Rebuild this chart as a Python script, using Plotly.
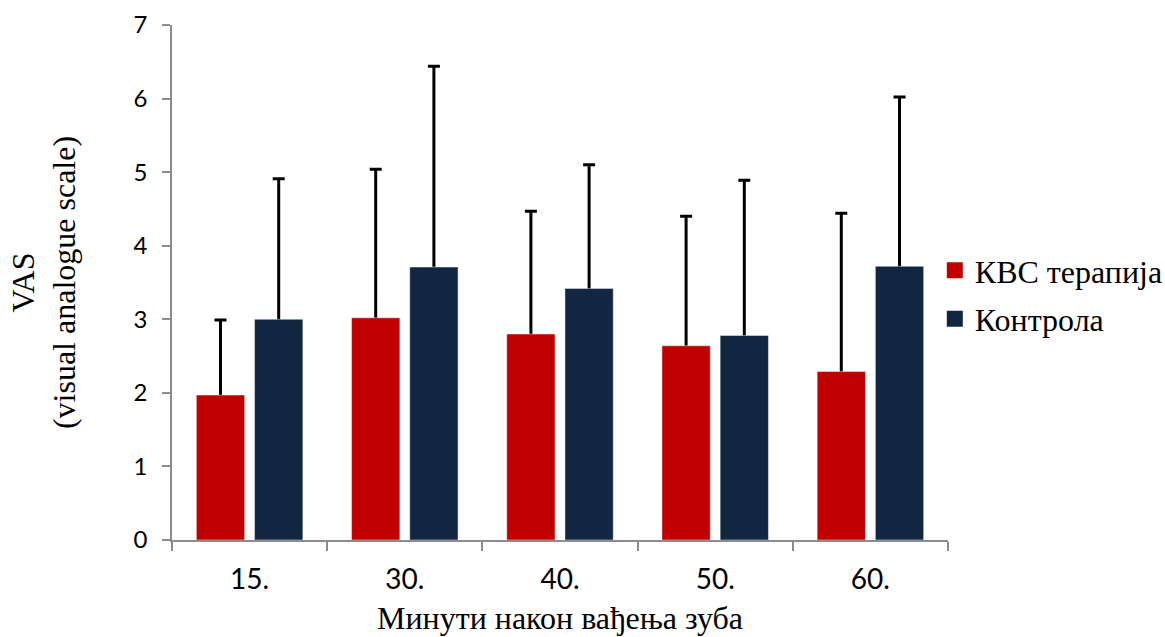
import plotly.graph_objects as go

# Time after tooth extraction (minutes)
categories = ["15.", "30.", "40.", "50.", "60."]

# Mean VAS score and standard deviation per group
kbc_mean = [1.97, 3.02, 2.80, 2.64, 2.29]
kbc_sd = [1.02, 2.02, 1.67, 1.76, 2.15]
control_mean = [3.00, 3.71, 3.42, 2.78, 3.72]
control_sd = [1.91, 2.73, 1.68, 2.11, 2.30]

series_names = ["КВС терапија", "Контрола"]
y_ticks = [0, 1, 2, 3, 4, 5, 6, 7]

RED = "#C00000"
NAVY = "#132641"
AXIS_GRAY = "#8C8C8C"
SERIF = "Liberation Serif, Times New Roman, serif"
SANS = "Lato, Open Sans, sans-serif"

# the lower end of each whisker starts a hair below the bar top so the
# coloured bar drawn over it hides the lower cap: only the upper SD shows
HIDDEN_TAIL = 0.05


def upper_sd(sd):
    return dict(
        type="data",
        symmetric=False,
        array=sd,
        arrayminus=[HIDDEN_TAIL] * len(sd),
        color="black",
        thickness=3,
        width=6,
    )


groups = [
    ("kbc", series_names[0], kbc_mean, kbc_sd, RED),
    ("ctl", series_names[1], control_mean, control_sd, NAVY),
]

fig = go.Figure()

# whiskers first (transparent bars carrying the error bars)
for key, name, mean, sd, color in groups:
    fig.add_trace(go.Bar(
        x=categories, y=mean, offsetgroup=key,
        marker=dict(color="rgba(0,0,0,0)", line=dict(width=0)),
        error_y=upper_sd(sd), showlegend=False, hoverinfo="skip",
    ))

# coloured bars on top
for key, name, mean, sd, color in groups:
    fig.add_trace(go.Bar(
        x=categories, y=mean, name=name, offsetgroup=key, legendgroup=key,
        marker=dict(color=color, line=dict(width=1, color="rgba(255,255,255,0.45)")),
        showlegend=False,
    ))

# legend entries with larger square swatches
for key, name, mean, sd, color in groups:
    fig.add_trace(go.Scatter(
        x=[None], y=[None], mode="markers", name=name, legendgroup=key,
        marker=dict(symbol="square", size=16, color=color),
    ))

fig.update_layout(
    width=1165, height=637,
    margin=dict(l=172, r=217, t=25, b=97, autoexpand=False),
    paper_bgcolor="white", plot_bgcolor="white",
    barmode="group", bargap=0.25, bargroupgap=0.17,
    showlegend=True,
    legend=dict(
        x=0.983, xanchor="left", y=0.476, yanchor="middle",
        font=dict(family=SERIF, size=32, color="black"),
        tracegroupgap=4, itemwidth=30,
    ),
    xaxis=dict(
        showline=True, linecolor=AXIS_GRAY, linewidth=1.5,
        ticks="outside", tickson="boundaries", ticklen=9,
        tickcolor=AXIS_GRAY, tickwidth=1.5,
        tickfont=dict(family=SANS, size=28, color="black"),
        ticklabelstandoff=14,
        showgrid=False, automargin=False,
        title=dict(text="Минути након вађења зуба",
                   font=dict(family=SERIF, size=32, color="black"),
                   standoff=12),
    ),
    yaxis=dict(
        range=[0, 7], tickvals=y_ticks,
        showline=True, linecolor=AXIS_GRAY, linewidth=1.5,
        ticks="outside", ticklen=8, tickcolor=AXIS_GRAY, tickwidth=1.5,
        tickfont=dict(family=SANS, size=24, color="black"),
        ticklabelstandoff=10,
        showgrid=False, zeroline=False, automargin=False,
        title=dict(text="VAS<br>(visual analogue scale)",
                   font=dict(family=SERIF, size=32, color="black"),
                   standoff=48),
    ),
)

fig.write_html("out.html")
